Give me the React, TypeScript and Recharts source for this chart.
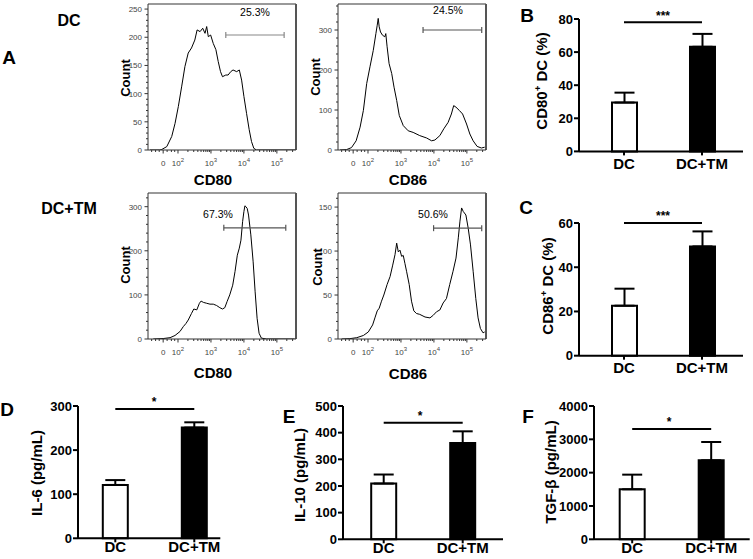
import React from "react";
import {
  LineChart,
  Line,
  BarChart,
  Bar,
  Cell,
  ErrorBar,
  XAxis,
  YAxis,
  ReferenceLine,
} from "recharts";

const FONT = "Arial, 'Liberation Sans', sans-serif";

// flow histograms: [logicle position in decades, count]
const cd80DC = [
  [1.15, 0], [1.45, 0], [1.51, 1], [1.66, 6], [1.81, 24], [1.91, 47], [2.01, 77],
  [2.11, 112], [2.21, 148], [2.31, 172], [2.41, 181], [2.51, 195], [2.58, 213],
  [2.67, 210], [2.75, 216], [2.82, 207], [2.87, 219], [2.92, 201], [2.99, 204],
  [3.07, 189], [3.15, 178], [3.22, 157], [3.29, 139], [3.35, 130], [3.45, 133],
  [3.52, 133], [3.6, 139], [3.67, 142], [3.78, 139], [3.86, 142], [3.93, 124],
  [4.0, 95], [4.08, 65], [4.16, 36], [4.23, 15], [4.3, 3], [4.38, 0], [5.55, 0],
];
const cd86DC = [
  [1.15, 0], [1.35, 1], [1.5, 6], [1.64, 23], [1.76, 57], [1.86, 99], [1.96, 166],
  [2.06, 208], [2.16, 249], [2.24, 291], [2.28, 312], [2.31, 329], [2.34, 308],
  [2.38, 295], [2.44, 287], [2.51, 283], [2.54, 291], [2.58, 258], [2.64, 216],
  [2.72, 191], [2.79, 157], [2.87, 124], [2.95, 86], [3.07, 61], [3.22, 48],
  [3.37, 44], [3.57, 36], [3.78, 30], [3.93, 23], [4.03, 25], [4.18, 36], [4.3, 53],
  [4.43, 69], [4.53, 90], [4.6, 111], [4.67, 107], [4.77, 99], [4.87, 90], [4.99, 65],
  [5.09, 40], [5.19, 23], [5.31, 9], [5.44, 5], [5.54, 7],
];
const cd80TM = [
  [1.25, 0], [1.55, 1], [1.76, 3], [1.91, 8], [2.06, 17], [2.16, 28], [2.24, 35],
  [2.31, 43], [2.41, 58], [2.48, 68], [2.57, 66], [2.65, 81], [2.7, 86], [2.77, 83],
  [2.87, 81], [2.97, 79], [3.07, 79], [3.17, 76], [3.27, 71], [3.35, 68], [3.42, 71],
  [3.49, 85], [3.57, 100], [3.66, 122], [3.73, 153], [3.8, 190], [3.86, 206],
  [3.91, 224], [3.96, 266], [4.0, 289], [4.03, 302], [4.06, 300], [4.1, 296],
  [4.14, 281], [4.21, 236], [4.28, 175], [4.34, 107], [4.4, 47], [4.46, 13],
  [4.53, 2], [4.69, 0], [5.54, 0],
];
const cd86TM = [
  [1.2, 0], [1.45, 0.4], [1.66, 1.5], [1.86, 4], [2.01, 8], [2.14, 16], [2.21, 24],
  [2.28, 32], [2.34, 35], [2.41, 43], [2.48, 50], [2.58, 62], [2.67, 71], [2.75, 84],
  [2.82, 96], [2.87, 109], [2.92, 99], [2.97, 101], [3.02, 94], [3.07, 95], [3.12, 86],
  [3.17, 77], [3.25, 62], [3.32, 43], [3.39, 32], [3.47, 29], [3.57, 28], [3.73, 25],
  [3.88, 24], [3.98, 27], [4.08, 31], [4.18, 33], [4.28, 41], [4.38, 46], [4.48, 62],
  [4.58, 77], [4.67, 92], [4.74, 115], [4.79, 134], [4.84, 149], [4.89, 145],
  [4.97, 141], [5.04, 126], [5.11, 107], [5.19, 77], [5.27, 46], [5.34, 24],
  [5.41, 12], [5.49, 7], [5.54, 8],
];

const xTickLabels = [
  { u: 1.55, base: "0", exp: "" },
  { u: 2, base: "10", exp: "2" },
  { u: 3, base: "10", exp: "3" },
  { u: 4, base: "10", exp: "4" },
  { u: 5, base: "10", exp: "5" },
];

// gates: [from, to, height, label]
const gates = [
  { x1: 3.45, x2: 5.22, y: 204, label: "25.3%" },
  { x1: 3.67, x2: 5.45, y: 300, label: "24.5%" },
  { x1: 3.39, x2: 5.27, y: 252, label: "67.3%" },
  { x1: 3.99, x2: 5.45, y: 126, label: "50.6%" },
];

const groups = ["DC", "DC+TM"];
const cd80Pct = [29.5, 63.2];
const cd80Sem = [6, 7.8];
const cd86Pct = [22.6, 49.4];
const cd86Sem = [7.7, 6.8];
const il6 = [121, 251];
const il6Sem = [11, 12];
const il10 = [209, 361];
const il10Sem = [34, 44];
const tgfb = [1500, 2370];
const tgfbSem = [440, 550];

const X_MIN = 1.09;
const X_MAX = 5.58;
const BOX_W = 148;
const BOX_H = 146;

const xMinor: number[] = [1.2, 1.32, 1.43, 1.67, 1.8, 1.9];
for (let n = 2; n <= 5; n++) {
  for (let k = 2; k <= 9; k++) {
    const v = n + Math.log10(k);
    if (v < X_MAX) xMinor.push(v);
  }
}
const xTicks = [...xTickLabels.map((t) => t.u), ...xMinor].sort((a, b) => a - b);

const HistXTick = (props: any) => {
  const { x, y, payload } = props;
  const lab = xTickLabels.find((t) => Math.abs(t.u - payload.value) < 1e-6);
  return (
    <g>
      <line x1={x} x2={x} y1={y} y2={y + (lab ? 3.5 : 2)} stroke="#333" strokeWidth={1} />
      {lab && (
        <text x={x} y={y + 16} textAnchor="middle" fontSize={8} fill="#444" fontFamily={FONT}>
          {lab.base}
          {lab.exp && (
            <tspan dy={-4} fontSize={6}>
              {lab.exp}
            </tspan>
          )}
        </text>
      )}
    </g>
  );
};

const makeYTick = (majors: number[]) => (props: any) => {
  const { x, y, payload } = props;
  const major = majors.includes(payload.value);
  return (
    <g>
      <line x1={x} x2={x - (major ? 3.5 : 2)} y1={y} y2={y} stroke="#333" strokeWidth={1} />
      {major && (
        <text x={x - 6} y={y + 3} textAnchor="end" fontSize={8} fill="#444" fontFamily={FONT}>
          {payload.value}
        </text>
      )}
    </g>
  );
};

type HistProps = {
  pts: number[][];
  left: number;
  top: number;
  yMax: number;
  majors: number[];
  minorStep: number;
  gate: { x1: number; x2: number; y: number };
  gateColor: string;
};

const Histogram = ({ pts, left, top, yMax, majors, minorStep, gate, gateColor }: HistProps) => {
  const YW = 30;
  const XH = 22;
  const data = pts.map(([u, c]) => ({ u, c }));
  const yTicks: number[] = [];
  for (let v = 0; v <= yMax; v += minorStep) yTicks.push(v);
  const cap = (yMax / BOX_H) * 3;
  return (
    <div style={{ position: "absolute", left: left - YW, top: top - 4 }}>
      <LineChart
        width={YW + BOX_W + 4}
        height={4 + BOX_H + XH}
        data={data}
        margin={{ top: 4, right: 4, bottom: 0, left: 0 }}
      >
        <XAxis
          dataKey="u"
          type="number"
          domain={[X_MIN, X_MAX]}
          ticks={xTicks}
          interval={0}
          tickSize={0}
          tickMargin={0}
          tick={(p: any) => <HistXTick {...p} />}
          stroke="#333"
          height={XH}
          allowDataOverflow
        />
        <YAxis
          type="number"
          domain={[0, yMax]}
          ticks={yTicks}
          interval={0}
          tickSize={0}
          tickMargin={0}
          tick={makeYTick(majors)}
          stroke="#333"
          width={YW}
          allowDataOverflow
        />
        <ReferenceLine y={yMax} stroke="#777" strokeWidth={1.5} />
        <ReferenceLine x={X_MAX} stroke="#555" strokeWidth={2} />
        <Line
          dataKey="c"
          type="linear"
          stroke="#000"
          strokeWidth={1}
          dot={false}
          isAnimationActive={false}
        />
        <ReferenceLine
          segment={[{ x: gate.x1, y: gate.y }, { x: gate.x2, y: gate.y }]}
          stroke={gateColor}
          strokeWidth={1.2}
        />
        <ReferenceLine
          segment={[{ x: gate.x1, y: gate.y - cap }, { x: gate.x1, y: gate.y + cap }]}
          stroke={gateColor}
          strokeWidth={1.2}
        />
        <ReferenceLine
          segment={[{ x: gate.x2, y: gate.y - cap }, { x: gate.x2, y: gate.y + cap }]}
          stroke={gateColor}
          strokeWidth={1.2}
        />
      </LineChart>
    </div>
  );
};

type BarProps = {
  means: number[];
  sems: number[];
  left: number;
  top: number;
  w: number;
  h: number;
  yMax: number;
  yTicks: number[];
  sigY: number;
  padL: number;
  padR: number;
  labelGap: number;
};

const BarPanel = ({ means, sems, left, top, w, h, yMax, yTicks, sigY, padL, padR, labelGap }: BarProps) => {
  const YW = 45;
  const XH = 30;
  const MT = 6;
  const MR = 8;
  const data = groups.map((g, i) => ({ group: g, mean: means[i], err: [0, sems[i]] }));
  return (
    <div style={{ position: "absolute", left: left - YW, top: top - MT }}>
      <BarChart
        width={YW + w + MR}
        height={MT + h + XH}
        data={data}
        margin={{ top: MT, right: MR, bottom: 0, left: 0 }}
      >
        <XAxis
          dataKey="group"
          interval={0}
          padding={{ left: padL, right: padR }}
          height={XH}
          stroke="#000"
          strokeWidth={2}
          tickSize={4}
          tickMargin={labelGap}
          tickLine={{ stroke: "#000", strokeWidth: 2 }}
          tick={{ fontSize: 15, fontWeight: "bold", fill: "#000", fontFamily: FONT }}
        />
        <YAxis
          type="number"
          domain={[0, yMax]}
          ticks={yTicks}
          interval={0}
          width={YW}
          stroke="#000"
          strokeWidth={2}
          tickSize={5}
          tickMargin={1}
          tickLine={{ stroke: "#000", strokeWidth: 2 }}
          tick={{ fontSize: 13, fontWeight: "bold", fill: "#000", fontFamily: FONT }}
        />
        <Bar dataKey="mean" barSize={25} stroke="#000" strokeWidth={2} isAnimationActive={false}>
          {data.map((d, i) => (
            <Cell key={d.group} fill={i === 0 ? "#fff" : "#000"} />
          ))}
          <ErrorBar dataKey="err" direction="y" width={10} stroke="#000" strokeWidth={2} />
        </Bar>
        <ReferenceLine
          segment={[{ x: groups[0], y: sigY }, { x: groups[1], y: sigY }]}
          stroke="#000"
          strokeWidth={2}
          ifOverflow="visible"
        />
      </BarChart>
    </div>
  );
};

const Txt = ({
  x,
  y,
  size,
  bold = true,
  rotate = false,
  color = "#000",
  children,
}: {
  x: number;
  y: number;
  size: number;
  bold?: boolean;
  rotate?: boolean;
  color?: string;
  children: React.ReactNode;
}) => (
  <div
    style={{
      position: "absolute",
      left: x,
      top: y,
      transform: `translate(-50%, -50%)${rotate ? " rotate(-90deg)" : ""}`,
      fontSize: size,
      fontWeight: bold ? "bold" : "normal",
      fontFamily: FONT,
      color,
      whiteSpace: "nowrap",
      lineHeight: 1,
    }}
  >
    {children}
  </div>
);

const Sup = ({ children }: { children: React.ReactNode }) => (
  <sup style={{ fontSize: "0.65em", lineHeight: 0 }}>{children}</sup>
);

export default function App() {
  return (
    <div
      style={{
        position: "absolute",
        left: 0,
        top: 0,
        width: 753,
        height: 559,
        background: "#fff",
        overflow: "hidden",
        fontFamily: FONT,
      }}
    >
      <Histogram pts={cd80DC} left={148} top={4} yMax={259} majors={[0, 50, 100, 150, 200, 250]} minorStep={10} gate={gates[0]} gateColor="#888" />
      <Histogram pts={cd86DC} left={338} top={4} yMax={365} majors={[0, 100, 200, 300]} minorStep={20} gate={gates[1]} gateColor="#555" />
      <Histogram pts={cd80TM} left={148} top={193} yMax={331} majors={[0, 100, 200, 300]} minorStep={20} gate={gates[2]} gateColor="#555" />
      <Histogram pts={cd86TM} left={338} top={193} yMax={166} majors={[0, 50, 100, 150]} minorStep={10} gate={gates[3]} gateColor="#555" />

      <BarPanel means={cd80Pct} sems={cd80Sem} left={579} top={19.3} w={164} h={132.4} yMax={80} yTicks={[0, 20, 40, 60, 80]} sigY={78} padL={6} padR={2} labelGap={3} />
      <BarPanel means={cd86Pct} sems={cd86Sem} left={579} top={223.3} w={164} h={132.7} yMax={60} yTicks={[0, 20, 40, 60]} sigY={60} padL={6} padR={2} labelGap={3} />
      <BarPanel means={il6} sems={il6Sem} left={77.7} top={406} w={142.3} h={132.3} yMax={300} yTicks={[0, 100, 200, 300]} sigY={293} padL={-2.2} padR={-13.5} labelGap={-1} />
      <BarPanel means={il10} sems={il10Sem} left={343.3} top={405.7} w={160} h={133.3} yMax={500} yTicks={[0, 100, 200, 300, 400, 500]} sigY={437} padL={1.2} padR={0.8} labelGap={-1} />
      <BarPanel means={tgfb} sems={tgfbSem} left={594.3} top={405.7} w={155.7} h={133.3} yMax={4000} yTicks={[0, 1000, 2000, 3000, 4000]} sigY={3310} padL={-1.3} padR={-1} labelGap={-1} />

      <Txt x={9} y={57} size={19}>A</Txt>
      <Txt x={69} y={21} size={16}>DC</Txt>
      <Txt x={69} y={209} size={16}>DC+TM</Txt>

      <Txt x={125} y={78} size={13} rotate>Count</Txt>
      <Txt x={315} y={77} size={13} rotate>Count</Txt>
      <Txt x={125} y={265} size={13} rotate>Count</Txt>
      <Txt x={317} y={267} size={13} rotate>Count</Txt>
      <Txt x={213} y={179} size={15}>CD80</Txt>
      <Txt x={408} y={179} size={15}>CD86</Txt>
      <Txt x={213} y={372} size={15}>CD80</Txt>
      <Txt x={408} y={373} size={15}>CD86</Txt>

      <Txt x={255} y={12} size={10.5} bold={false}>{gates[0].label}</Txt>
      <Txt x={448} y={10} size={10.5} bold={false}>{gates[1].label}</Txt>
      <Txt x={218} y={214} size={10.5} bold={false}>{gates[2].label}</Txt>
      <Txt x={433} y={214} size={10.5} bold={false}>{gates[3].label}</Txt>

      <Txt x={527} y={15} size={19}>B</Txt>
      <Txt x={526} y={207} size={19}>C</Txt>
      <Txt x={7} y={409} size={19}>D</Txt>
      <Txt x={289} y={416} size={19}>E</Txt>
      <Txt x={528} y={416} size={19}>F</Txt>

      <Txt x={541} y={81} size={15} rotate>
        CD80<Sup>+</Sup> DC (%)
      </Txt>
      <Txt x={547} y={286} size={15} rotate>
        CD86<Sup>+</Sup> DC (%)
      </Txt>
      <Txt x={36} y={473} size={15} rotate>IL-6 (pg/mL)</Txt>
      <Txt x={299} y={475} size={15} rotate>IL-10 (pg/mL)</Txt>
      <Txt x={550} y={472} size={15} rotate>TGF-β (pg/mL)</Txt>

      <Txt x={663} y={16} size={12}>***</Txt>
      <Txt x={663} y={216} size={12}>***</Txt>
      <Txt x={154} y={402} size={12}>*</Txt>
      <Txt x={420} y={416} size={12}>*</Txt>
      <Txt x={669} y={422} size={12}>*</Txt>
    </div>
  );
}
